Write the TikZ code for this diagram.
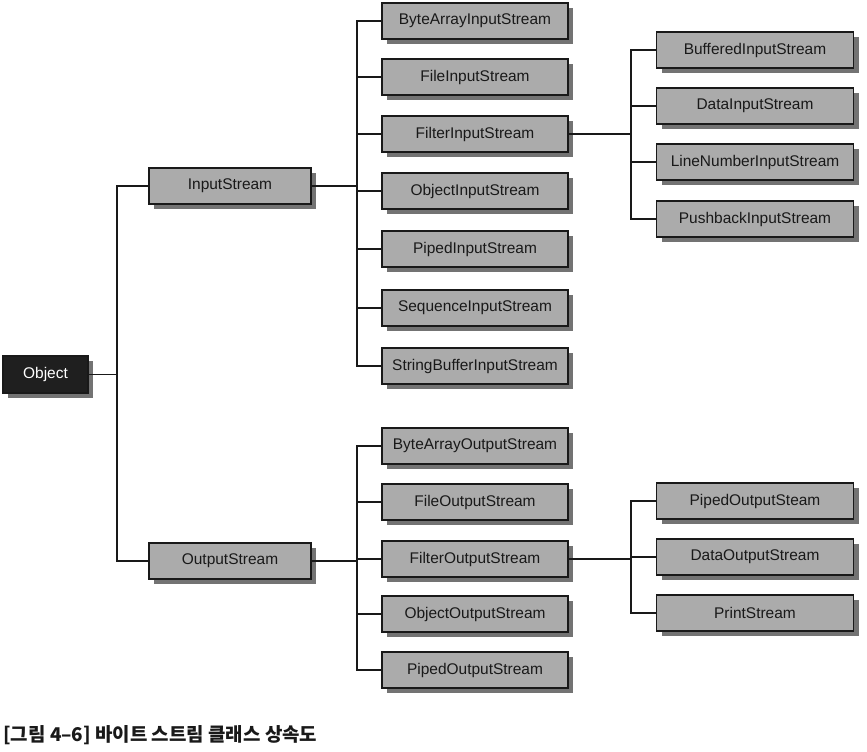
\documentclass[tikz,border=0pt]{standalone}
\usepackage{fontspec}
\setmainfont{Liberation Sans}
\newfontfamily\krfont{Noto Sans CJK KR}
\usetikzlibrary{shadows}

\tikzset{
  cls/.style={draw=black!90, line width=0.9pt, fill=black!33, text=black!90,
    font=\fontsize{11.6}{13}\selectfont, inner sep=0pt, minimum height=27pt,
    drop shadow={shadow xshift=4pt, shadow yshift=-4pt, fill=black!55, opacity=1}},
  lvlone/.style={cls, minimum width=121.5pt},
  lvltwo/.style={cls, minimum width=139.5pt},
  lvlthree/.style={cls, minimum width=148pt},
  root/.style={cls, fill=black!88, text=white, minimum width=63.75pt, minimum height=27.75pt},
  tree/.style={line width=1.3pt, black!90}
}

\begin{document}
\begin{tikzpicture}[x=0.75pt, y=-0.75pt]
  \useasboundingbox (0,0) rectangle (867,751);
  % junction columns
  \coordinate (ja) at (117,0);
  \coordinate (jb) at (357,0);
  \coordinate (jc) at (631,0);

  \node[root] (obj) at (45.5,374.5) {Object};
  \node[lvlone] (inp) at (230,186) {InputStream};
  \node[lvlone] (outp) at (230,561) {OutputStream};

  % input streams
  \node[lvltwo] (bais) at (475,21) {ByteArrayInputStream};
  \node[lvltwo] (fis) at (475,77) {FileInputStream};
  \node[lvltwo] (filis) at (475,134) {FilterInputStream};
  \node[lvltwo] (ois) at (475,191) {ObjectInputStream};
  \node[lvltwo] (pis) at (475,249) {PipedInputStream};
  \node[lvltwo] (seqis) at (475,308) {SequenceInputStream};
  \node[lvltwo] (sbis) at (475,366) {StringBufferInputStream};

  \node[lvlthree] (bufis) at (755,50) {BufferedInputStream};
  \node[lvlthree] (dis) at (755,106) {DataInputStream};
  \node[lvlthree] (lnis) at (755,162) {LineNumberInputStream};
  \node[lvlthree] (pbis) at (755,219) {PushbackInputStream};

  % output streams
  \node[lvltwo] (baos) at (475,446) {ByteArrayOutputStream};
  \node[lvltwo] (fos) at (475,502) {FileOutputStream};
  \node[lvltwo] (filos) at (475,559) {FilterOutputStream};
  \node[lvltwo] (oos) at (475,614) {ObjectOutputStream};
  \node[lvltwo] (pos) at (475,670) {PipedOutputStream};

  \node[lvlthree] (pos2) at (755,501) {PipedOutputSteam};
  \node[lvlthree] (dos) at (755,557) {DataOutputStream};
  \node[lvlthree] (prs) at (755,613) {PrintStream};

  % connectors
  \draw[tree] (obj.east) -- (obj.east -| ja);
  \draw[tree] (inp.west) -| (ja |- outp.west) -- (outp.west);

  \draw[tree] (inp.east) -- (inp.east -| jb);
  \draw[tree] (bais.west) -| (jb |- sbis.west) -- (sbis.west);
  \foreach \n in {fis,filis,ois,pis,seqis}
    \draw[tree] (\n.west) -- (\n.west -| jb);

  \draw[tree] (filis.east) -- (filis.east -| jc);
  \draw[tree] (bufis.west) -| (jc |- pbis.west) -- (pbis.west);
  \foreach \n in {dis,lnis}
    \draw[tree] (\n.west) -- (\n.west -| jc);

  \draw[tree] (outp.east) -- (outp.east -| jb);
  \draw[tree] (baos.west) -| (jb |- pos.west) -- (pos.west);
  \foreach \n in {fos,filos,oos}
    \draw[tree] (\n.west) -- (\n.west -| jb);

  \draw[tree] (filos.east) -- (filos.east -| jc);
  \draw[tree] (pos2.west) -| (jc |- prs.west) -- (prs.west);
  \draw[tree] (dos.west) -- (dos.west -| jc);

  \node[anchor=west, inner sep=0pt, font=\krfont\bfseries\fontsize{14.2}{16}\selectfont,
    text=black!90] (cap) at (3,735) {[그림 4–6] 바이트 스트림 클래스 상속도};
\end{tikzpicture}
\end{document}
